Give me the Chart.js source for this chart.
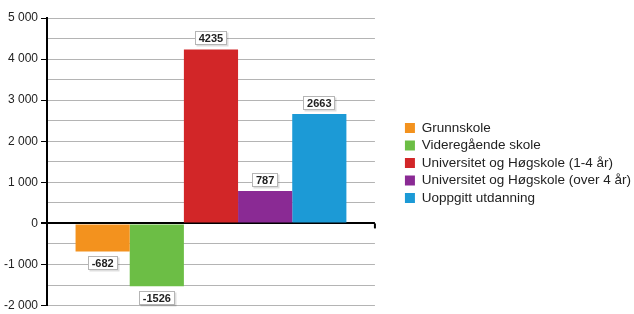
<!DOCTYPE html>
<html>
<head>
<meta charset="utf-8">
<script src="https://cdn.jsdelivr.net/npm/chart.js@4"></script>
<style>
  html, body { margin: 0; padding: 0; background: #fff; }
  #wrap { width: 634px; height: 314px; }
</style>
</head>
<body>
<div id="wrap"><canvas id="chart"></canvas></div>
<script>
const categories = [
  "Grunnskole",
  "Videregående skole",
  "Universitet og Høgskole (1-4 år)",
  "Universitet og Høgskole (over 4 år)",
  "Uoppgitt utdanning"
];
const values = [-682, -1526, 4235, 787, 2663];
const colors = ["#f3921e", "#6cbe45", "#d22628", "#8a2a94", "#1c9ad6"];
const yMin = -2000;
const yMax = 5000;

// value boxes on top of / below the bars
const valueBoxes = {
  id: "valueBoxes",
  afterDatasetsDraw(chart) {
    const c = chart.ctx;
    c.save();
    c.font = "bold 11px 'Liberation Sans', Arial, sans-serif";
    c.textAlign = "center";
    c.textBaseline = "middle";
    chart.data.datasets.forEach((ds, i) => {
      const bar = chart.getDatasetMeta(i).data[0];
      const v = ds.data[0];
      const txt = String(v);
      const w = Math.round(c.measureText(txt).width + 8);
      const h = 14;
      const top = Math.round(v >= 0 ? bar.y - 4 - h : bar.y + 5);
      const left = Math.round(bar.x - w / 2);
      c.fillStyle = "rgba(0,0,0,0.13)";
      c.fillRect(left + 1.5, top + 1.5, w, h);
      c.fillStyle = "#fff";
      c.fillRect(left, top, w, h);
      c.strokeStyle = "#b5b5b5";
      c.lineWidth = 1;
      c.strokeRect(left + 0.5, top + 0.5, w - 1, h - 1);
      c.fillStyle = "#222";
      c.fillText(txt, bar.x, top + h / 2 + 0.5);
    });
    // small tick at the right end of the zero line
    const y0 = chart.scales.y.getPixelForValue(0);
    const r = chart.chartArea.right;
    c.strokeStyle = "#000";
    c.lineWidth = 2;
    c.beginPath();
    c.moveTo(r, y0);
    c.lineTo(r, y0 + 5);
    c.stroke();
    c.restore();
  }
};

new Chart(document.getElementById("chart"), {
  type: "bar",
  data: {
    labels: [""],
    datasets: categories.map((name, i) => ({
      label: name,
      data: [values[i]],
      backgroundColor: colors[i],
      barPercentage: 1,
      categoryPercentage: 0.826
    }))
  },
  options: {
    responsive: true,
    maintainAspectRatio: false,
    animation: false,
    layout: { padding: { top: 11, bottom: -1, left: 1, right: -7 } },
    plugins: {
      tooltip: { enabled: false },
      legend: {
        position: "right",
        maxWidth: 260,
        labels: {
          boxWidth: 10,
          boxHeight: 10,
          padding: 4,
          color: "#222",
          font: { family: "'Liberation Sans', Arial, sans-serif", size: 13.5 }
        }
      }
    },
    scales: {
      // invisible top axis, only keeps space above the plot
      x: {
        position: "top",
        grid: { display: false, drawTicks: false },
        border: { display: false },
        ticks: { display: false },
        afterFit: (scale) => { scale.height = 7; }
      },
      y: {
        min: yMin,
        max: yMax,
        ticks: {
          stepSize: 500,
          autoSkip: false,
          color: "#222",
          padding: 3,
          font: { family: "'Liberation Sans', Arial, sans-serif", size: 12, lineHeight: 0.9 },
          callback: (v) => (v % 1000 === 0 ? String(v).replace(/(\d)(\d{3})$/, "$1 $2") : "")
        },
        border: { color: "#000", width: 2 },
        grid: {
          color: (ctx) => (ctx.tick && ctx.tick.value === 0 ? "#000" : "#b4b4b4"),
          lineWidth: (ctx) => (ctx.tick && ctx.tick.value === 0 ? 2 : 1),
          tickColor: (ctx) => (ctx.tick && ctx.tick.value % 1000 === 0 ? "#000" : "rgba(0,0,0,0)"),
          tickLength: 6
        }
      },
      // empty right axis, only keeps a gap between plot and legend
      gap: {
        type: "linear",
        position: "right",
        min: yMin,
        max: yMax,
        border: { display: false },
        grid: { display: false, drawTicks: false },
        ticks: { display: false },
        afterFit: (scale) => { scale.width = 26; }
      }
    }
  },
  plugins: [valueBoxes]
});
</script>
</body>
</html>
